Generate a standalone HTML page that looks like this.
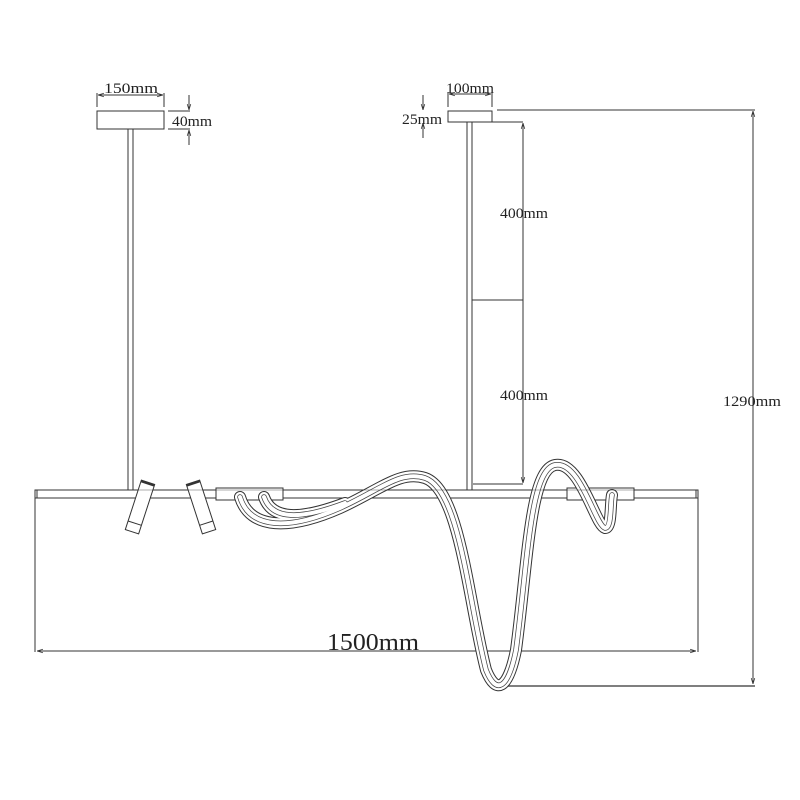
<!DOCTYPE html>
<html><head><meta charset="utf-8"><style>
html,body{margin:0;padding:0;background:#fff;}
svg{display:block}
text{font-family:"Liberation Serif",serif;fill:#222}
</style></head><body>
<svg width="800" height="800" viewBox="0 0 800 800" xmlns="http://www.w3.org/2000/svg">
<defs>
<marker id="ar" viewBox="0 0 10 10" refX="10" refY="5" markerWidth="6" markerHeight="6" orient="auto-start-reverse"><path d="M0,2 L10,5 L0,8" fill="none" stroke="#333" stroke-width="1.2"/></marker>
</defs>
<g fill="none" stroke="#333" stroke-width="1">
<rect x="97" y="111" width="67" height="18" fill="#fff"/>
<line x1="97" y1="93" x2="97" y2="107"/><line x1="164" y1="93" x2="164" y2="107"/>
<line x1="98" y1="95" x2="163" y2="95" marker-start="url(#ar)" marker-end="url(#ar)"/>
<line x1="168" y1="111" x2="190" y2="111"/><line x1="168" y1="129" x2="190" y2="129"/>
<line x1="189" y1="95" x2="189" y2="110" marker-end="url(#ar)"/>
<line x1="189" y1="145" x2="189" y2="130" marker-end="url(#ar)"/>
<line x1="128" y1="129" x2="128" y2="490"/><line x1="133" y1="129" x2="133" y2="490"/>
<rect x="448" y="111" width="44" height="11" fill="#fff"/>
<line x1="448" y1="92" x2="448" y2="107"/><line x1="492" y1="92" x2="492" y2="107"/>
<line x1="449" y1="94" x2="491" y2="94" marker-start="url(#ar)" marker-end="url(#ar)"/>
<line x1="423" y1="95" x2="423" y2="110" marker-end="url(#ar)"/>
<line x1="423" y1="138" x2="423" y2="123" marker-end="url(#ar)"/>
<line x1="467" y1="122" x2="467" y2="490"/><line x1="472" y1="122" x2="472" y2="490"/>
<line x1="497" y1="110" x2="755" y2="110"/>
<line x1="492" y1="122" x2="523" y2="122"/>
<line x1="523" y1="300" x2="523" y2="123" marker-end="url(#ar)"/>
<line x1="523" y1="300" x2="523" y2="483" marker-end="url(#ar)"/>
<line x1="472" y1="300" x2="523" y2="300"/>
<line x1="473" y1="484" x2="523" y2="484"/>
<line x1="753" y1="400" x2="753" y2="111" marker-end="url(#ar)"/>
<line x1="753" y1="400" x2="753" y2="684" marker-end="url(#ar)"/>
<line x1="505" y1="686" x2="755" y2="686" stroke="#555" stroke-width="1.5"/>
<rect x="35" y="490" width="663" height="8" fill="#fff"/>
<line x1="37" y1="490" x2="37" y2="498"/><line x1="696" y1="490" x2="696" y2="498"/>
<line x1="35" y1="498" x2="35" y2="652"/><line x1="698" y1="498" x2="698" y2="652"/>
<line x1="366" y1="651" x2="37" y2="651" marker-end="url(#ar)"/>
<line x1="366" y1="651" x2="696" y2="651" marker-end="url(#ar)"/>
<rect x="216" y="488" width="67" height="12" fill="#fff"/>
<rect x="567" y="488" width="67" height="12" fill="#fff"/>
<g transform="rotate(18 140 507)"><rect x="133" y="481" width="14" height="52" fill="#fff"/><line x1="133" y1="524" x2="147" y2="524"/><line x1="133" y1="482" x2="147" y2="482" stroke-width="2.5"/></g>
<g transform="rotate(-18 201 507)"><rect x="194" y="481" width="14" height="52" fill="#fff"/><line x1="194" y1="524" x2="208" y2="524"/><line x1="194" y1="482" x2="208" y2="482" stroke-width="2.5"/></g>
</g>
<g fill="none" stroke-linecap="round">
<path id="r1" d="M240,497 C250,530 290,530 340,508 C380,490 400,470 425,478 C460,490 468,600 486,670 C496,695 508,690 516,650 C528,560 530,470 555,465 C580,460 595,525 605,528 C612,528 610,505 612,495"/>
<path id="r2" d="M264,497 C272,520 300,520 345,503"/>
</g>
<g fill="none" stroke-linecap="round">
<use href="#r1" stroke="#333" stroke-width="12"/><use href="#r2" stroke="#333" stroke-width="12"/>
<use href="#r1" stroke="#fff" stroke-width="10"/><use href="#r2" stroke="#fff" stroke-width="10"/>
<use href="#r1" stroke="#444" stroke-width="5.5"/><use href="#r2" stroke="#444" stroke-width="5.5"/>
<use href="#r1" stroke="#fff" stroke-width="4"/><use href="#r2" stroke="#fff" stroke-width="4"/>
</g>
<line x1="35" y1="490" x2="698" y2="490" stroke="#333" stroke-width="1" opacity="0.4"/>
<text x="104" y="93" font-size="15" textLength="54" lengthAdjust="spacingAndGlyphs">150mm</text>
<text x="172" y="126" font-size="15" textLength="40" lengthAdjust="spacingAndGlyphs">40mm</text>
<text x="446" y="93" font-size="15" textLength="48" lengthAdjust="spacingAndGlyphs">100mm</text>
<text x="402" y="124" font-size="15" textLength="40" lengthAdjust="spacingAndGlyphs">25mm</text>
<text x="500" y="218" font-size="15" textLength="48" lengthAdjust="spacingAndGlyphs">400mm</text>
<text x="500" y="400" font-size="15" textLength="48" lengthAdjust="spacingAndGlyphs">400mm</text>
<text x="723" y="406" font-size="15" textLength="58" lengthAdjust="spacingAndGlyphs">1290mm</text>
<text x="327" y="650" font-size="24" textLength="92" lengthAdjust="spacingAndGlyphs">1500mm</text>
</svg>
</body></html>
